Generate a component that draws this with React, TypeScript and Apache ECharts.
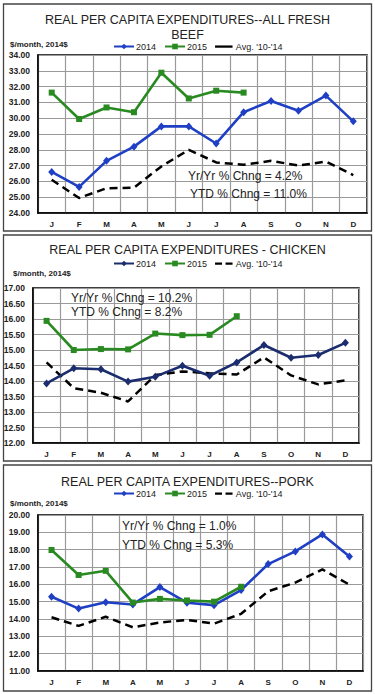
import React, { useEffect, useRef } from 'react';
import * as echarts from 'echarts';

const months = ['J', 'F', 'M', 'A', 'M', 'J', 'J', 'A', 'S', 'O', 'N', 'D'];

const beef2014 = [26.6, 25.65, 27.3, 28.2, 29.48, 29.48, 28.4, 30.38, 31.09, 30.47, 31.43, 29.8];
const beef2015 = [31.62, 29.95, 30.68, 30.38, 32.88, 31.25, 31.74, 31.62];
const beefAvg = [26.1, 24.95, 25.57, 25.6, 26.95, 28.0, 27.2, 27.05, 27.3, 27.0, 27.25, 26.4];

const chicken2014 = [13.92, 14.41, 14.38, 13.98, 14.14, 14.49, 14.17, 14.6, 15.16, 14.75, 14.84, 15.23];
const chicken2015 = [15.94, 15.0, 15.03, 15.02, 15.53, 15.48, 15.49, 16.09];
const chickenAvg = [14.6, 13.77, 13.62, 13.34, 14.19, 14.31, 14.25, 14.21, 14.76, 14.18, 13.89, 14.02];

const pork2014 = [15.28, 14.6, 14.97, 14.84, 15.84, 14.94, 14.8, 15.67, 17.17, 17.9, 18.88, 17.6];
const pork2015 = [17.98, 16.54, 16.78, 14.95, 15.16, 15.07, 15.0, 15.86];
const porkAvg = [14.1, 13.6, 14.13, 13.52, 13.8, 13.95, 13.73, 14.3, 15.6, 16.1, 16.86, 15.98];

const beefTitle = 'REAL PER CAPITA EXPENDITURES--ALL FRESH\nBEEF';
const chickenTitle = 'REAL PER CAPITA EXPENDITURES - CHICKEN';
const porkTitle = 'REAL PER CAPITA EXPENDITURES--PORK';
const unitLabel = '$/month, 2014$';
const beefNotes = ['Yr/Yr % Chng = 4.2%', 'YTD % Chng = 11.0%'];
const chickenNotes = ['Yr/Yr % Chng = 10.2%', 'YTD % Chng = 8.2%'];
const porkNotes = ['Yr/Yr % Chng = 1.0%', 'YTD % Chng = 5.3%'];

const legendNames: Record<string, string> = {
  b2014: '2014', b2015: '2015', bavg: "Avg. '10-'14",
  c2014: '2014', c2015: '2015', cavg: "Avg. '10-'14",
  p2014: '2014', p2015: '2015', pavg: "Avg. '10-'14",
};

const BLUE = '#1f3fc4';
const NAVY = '#1b2d6e';
const GREEN = '#2a8a22';
const FONT = 'Liberation Sans, Arial, sans-serif';

const SOLID_ICON = 'path://M0,0M20,8M0,2.8h20v2.6h-20z';
const DASH_ICON = 'path://M0,0M20,8M0,2.8h8v2.6h-8zM12,2.8h8v2.6h-8z';

export default function App() {
  const ref = useRef<HTMLDivElement>(null);
  useEffect(() => {
    if (!ref.current) return;
    const chart = echarts.init(ref.current, undefined, { renderer: 'svg' });

    const grids = [
      { left: 38, right: 8, top: 55, height: 158 },
      { left: 33, right: 16, top: 288, height: 155 },
      { left: 38, right: 12, top: 515, height: 156 },
    ];
    const yRanges = [
      { min: 24, max: 34, interval: 1 },
      { min: 12, max: 17, interval: 0.5 },
      { min: 11, max: 20, interval: 1 },
    ];

    const xAxis = grids.map((_, i) => ({
      type: 'category',
      gridIndex: i,
      data: months,
      boundaryGap: true,
      axisTick: { show: false },
      axisLine: { lineStyle: { color: '#000', width: 1.5 } },
      axisLabel: { fontSize: 8, fontWeight: 'bold', color: '#222', margin: 7, interval: 0 },
      splitLine: { show: true, interval: 0, lineStyle: { color: '#9a9a9a', width: 1.2 } },
    }));
    const yAxis = yRanges.map((r, i) => ({
      type: 'value',
      gridIndex: i,
      min: r.min,
      max: r.max,
      interval: r.interval,
      axisTick: { show: false },
      axisLine: { show: true, lineStyle: { color: '#000', width: 1.5 } },
      axisLabel: {
        fontSize: 8.5, fontWeight: 'bold', color: '#222', margin: 8,
        formatter: (v: number) => v.toFixed(2),
      },
      splitLine: { show: true, lineStyle: { color: '#9a9a9a', width: 1.2 } },
    }));

    const mk = (name: string, data: number[], idx: number, color: string, kind: 'a' | 'b' | 'avg') => {
      if (kind === 'avg') {
        return {
          name, type: 'line', xAxisIndex: idx, yAxisIndex: idx, data,
          symbol: 'none', lineStyle: { color: '#000', width: 2.5, type: [8, 5] },
          itemStyle: { color: '#000' }, z: 3,
        };
      }
      return {
        name, type: 'line', xAxisIndex: idx, yAxisIndex: idx, data,
        symbol: kind === 'a' ? 'diamond' : 'rect',
        symbolSize: kind === 'a' ? [7, 8] : 6,
        lineStyle: { color, width: 2.6 },
        itemStyle: { color },
        z: kind === 'a' ? 4 : 5,
      };
    };

    const series = [
      mk('b2014', beef2014, 0, BLUE, 'a'),
      mk('b2015', beef2015, 0, GREEN, 'b'),
      mk('bavg', beefAvg, 0, '#000', 'avg'),
      mk('c2014', chicken2014, 1, NAVY, 'a'),
      mk('c2015', chicken2015, 1, GREEN, 'b'),
      mk('cavg', chickenAvg, 1, '#000', 'avg'),
      mk('p2014', pork2014, 2, BLUE, 'a'),
      mk('p2015', pork2015, 2, GREEN, 'b'),
      mk('pavg', porkAvg, 2, '#000', 'avg'),
    ];

    const legendBase = {
      left: 108, itemWidth: 20, itemHeight: 7, itemGap: 8,
      textStyle: { fontSize: 9, color: '#222', padding: [0, 0, 0, -3] },
      formatter: (n: string) => legendNames[n],
      selectedMode: false,
    };

    const noteText = (x: number, y: number, t: string) => ({
      type: 'text', left: x, top: y,
      style: { text: t, fontSize: 12, fill: '#222', fontFamily: FONT },
      z: 10,
    });
    const box = (y: number, h: number) => ({
      type: 'rect', shape: { x: 3.5, y, width: 368, height: h },
      style: { fill: 'none', stroke: '#444', lineWidth: 1.3 }, z: -1,
    });
    const unit = (x: number, y: number) => ({
      type: 'text', left: x, top: y,
      style: { text: unitLabel, fontSize: 8, fontWeight: 'bold', fill: '#222', fontFamily: FONT },
    });

    chart.setOption({
      animation: false,
      backgroundColor: '#fff',
      textStyle: { fontFamily: FONT },
      title: [
        { text: beefTitle, left: 'center', top: 7, textStyle: { fontSize: 12.5, fontWeight: 'normal', color: '#222', lineHeight: 15 } },
        { text: chickenTitle, left: 'center', top: 238, textStyle: { fontSize: 12.5, fontWeight: 'normal', color: '#222' } },
        { text: porkTitle, left: 'center', top: 470, textStyle: { fontSize: 12.5, fontWeight: 'normal', color: '#222' } },
      ],
      legend: [
        { ...legendBase, top: 37, data: ['b2014', 'b2015', { name: 'bavg', icon: SOLID_ICON }] },
        { ...legendBase, top: 254, data: ['c2014', 'c2015', { name: 'cavg', icon: DASH_ICON }] },
        { ...legendBase, top: 484, data: ['p2014', 'p2015', { name: 'pavg', icon: DASH_ICON }] },
      ],
      grid: grids.map((g) => ({ ...g, show: true, borderColor: '#000', borderWidth: 1.5, containLabel: false })),
      xAxis,
      yAxis,
      series,
      graphic: [
        box(4, 227),
        box(235, 226),
        box(465, 226),
        unit(10, 40),
        unit(13, 269),
        unit(10, 499),
        noteText(188, 170, beefNotes[0]),
        noteText(190, 188, beefNotes[1]),
        noteText(71, 292, chickenNotes[0]),
        noteText(71, 306, chickenNotes[1]),
        noteText(122, 520, porkNotes[0]),
        noteText(122, 539, porkNotes[1]),
      ],
    });
    return () => chart.dispose();
  }, []);
  return <div ref={ref} style={{ position: 'absolute', left: 0, top: 0, width: 375, height: 694 }} />;
}
